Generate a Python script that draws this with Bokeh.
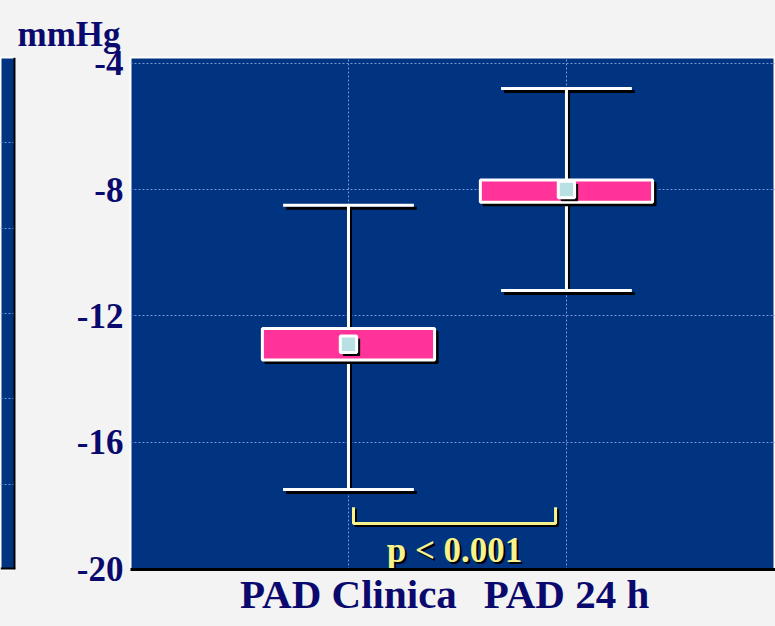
from bokeh.plotting import figure
from bokeh.layouts import row
from bokeh.models import Range1d, FixedTicker, Title
from bokeh.core.properties import value
from bokeh.embed import file_html
from bokeh.resources import INLINE

# ---- data ----
categories = ["PAD Clinica", "PAD 24 h"]
xpos = [1, 2]
mean = [-12.9, -8.0]
box_low = [-13.4, -8.4]
box_high = [-12.4, -7.7]
whisker_low = [-17.5, -11.2]
whisker_high = [-8.5, -4.8]
y_ticks = [-20, -16, -12, -8, -4]
y_tick_labels = ["-20", "-16", "-12", "-8", "-4"]
p_text = "p < 0.001"
bracket_x = [1.023, 1.95]
bracket_y = [-18.06, -18.57]

BLUE = "#003380"
NAVY = "#0a0a6e"
PINK = "#ff3399"
YEL = "#f8f28c"
GRID = "#7896d8"
BG = "#f3f3f3"
FONT = value("Liberation Serif")

H = 626
TOP = 57
BOTTOM = 57

# ---- main figure ----
p = figure(width=759, height=H, output_backend="svg", toolbar_location=None,
           x_range=Range1d(0, 2.959), y_range=Range1d(-20.03, -3.82),
           min_border_left=114, min_border_right=0, min_border_top=TOP,
           min_border_bottom=BOTTOM)
p.background_fill_color = BLUE
p.border_fill_color = BG
p.outline_line_color = "white"
p.outline_line_width = 2

# pixels per unit for shadow offsets
pxu_x = 645 / 2.959
pxu_y = 512 / (20.03 - 3.82)
sx = 3 / pxu_x
sy = 3 / pxu_y

p.xaxis.ticker = FixedTicker(ticks=xpos)
p.xaxis.major_label_overrides = {x: c for x, c in zip(xpos, categories)}
p.xaxis.major_label_text_font = "Liberation Serif"
p.xaxis.major_label_text_font_style = "bold"
p.xaxis.major_label_text_font_size = "41px"
p.xaxis.major_label_text_color = NAVY
p.xaxis.major_label_standoff = 1
p.xaxis.axis_line_color = "black"
p.xaxis.axis_line_width = 3
p.xaxis.major_tick_line_color = None
p.xaxis.minor_tick_line_color = None
p.xaxis.major_tick_out = 0
p.xaxis.major_tick_in = 0

p.yaxis.ticker = FixedTicker(ticks=y_ticks)
p.yaxis.major_label_overrides = {t: s for t, s in zip(y_ticks, y_tick_labels)}
p.yaxis.major_label_text_font = "Liberation Serif"
p.yaxis.major_label_text_font_style = "bold"
p.yaxis.major_label_text_font_size = "35px"
p.yaxis.major_label_text_color = NAVY
p.yaxis.major_label_standoff = 7
p.yaxis.axis_line_color = None
p.yaxis.major_tick_line_color = None
p.yaxis.minor_tick_line_color = None
p.yaxis.major_tick_out = 0
p.yaxis.major_tick_in = 0

for g in (p.xgrid, p.ygrid):
    g.grid_line_color = GRID
    g.grid_line_dash = "2 2"
    g.grid_line_width = 1
p.xgrid.ticker = FixedTicker(ticks=xpos)
p.ygrid.ticker = FixedTicker(ticks=y_ticks)

cap = 0.3
half = 0.395
msz = 0.075

# whiskers: shadow then white
xs_sh = [x + sx / 1.5 for x in xpos]
p.segment(x0=xs_sh, x1=xs_sh, y0=whisker_low, y1=whisker_high, line_color="black", line_width=3)
p.segment(x0=[x - cap + sx for x in xpos], x1=[x + cap + sx for x in xpos],
          y0=[w - sy for w in whisker_low], y1=[w - sy for w in whisker_low], line_color="black", line_width=3)
p.segment(x0=[x - cap + sx for x in xpos], x1=[x + cap + sx for x in xpos],
          y0=[w - sy for w in whisker_high], y1=[w - sy for w in whisker_high], line_color="black", line_width=3)
p.segment(x0=xpos, x1=xpos, y0=whisker_low, y1=whisker_high, line_color="white", line_width=3)
p.segment(x0=[x - cap for x in xpos], x1=[x + cap for x in xpos],
          y0=whisker_low, y1=whisker_low, line_color="white", line_width=3)
p.segment(x0=[x - cap for x in xpos], x1=[x + cap for x in xpos],
          y0=whisker_high, y1=whisker_high, line_color="white", line_width=3)

# boxes
p.quad(left=[x - half + sx for x in xpos], right=[x + half + sx for x in xpos],
       bottom=[b - sy for b in box_low], top=[t - sy for t in box_high],
       fill_color="black", line_color="black", line_width=2)
p.quad(left=[x - half for x in xpos], right=[x + half for x in xpos],
       bottom=box_low, top=box_high, fill_color=PINK, line_color="white", line_width=3)

# mean squares
p.rect(x=[x + sx for x in xpos], y=[m - sy for m in mean], width=msz, height=msz * pxu_x / pxu_y,
       fill_color="black", line_color="black")
p.rect(x=xpos, y=mean, width=msz, height=msz * pxu_x / pxu_y,
       fill_color="#b9e0e2", line_color="white", line_width=3)

# significance bracket
bx = [bracket_x[0], bracket_x[0], bracket_x[1], bracket_x[1]]
by = [bracket_y[0], bracket_y[1], bracket_y[1], bracket_y[0]]
p.line(x=[v + sx / 1.5 for v in bx], y=[v - sy / 1.5 for v in by], line_color="black", line_width=3)
p.line(x=bx, y=by, line_color=YEL, line_width=3)

tx = (bracket_x[0] + bracket_x[1]) / 2
ty = -19.42
p.text(x=[tx], y=[ty], text=[p_text], text_font=FONT, text_font_style="bold",
       text_font_size="35px", text_color="black", text_align="center",
       text_baseline="middle", x_offset=2, y_offset=2)
p.text(x=[tx], y=[ty], text=[p_text], text_font=FONT, text_font_style="bold",
       text_font_size="35px", text_color=YEL, text_align="center",
       text_baseline="middle")

t = Title(text="mmHg", align="left", offset=-113, standoff=7, text_font="Liberation Serif",
          text_font_style="bold", text_font_size="35px", text_color=NAVY)
p.add_layout(t, "above")

# ---- partial neighbouring panel on the left ----
left = figure(width=16, height=H, output_backend="svg", toolbar_location=None,
              x_range=Range1d(0, 1), y_range=Range1d(0, 6),
              min_border_left=0, min_border_right=1, min_border_top=TOP,
              min_border_bottom=BOTTOM)
left.axis.visible = False
left.background_fill_color = BLUE
left.border_fill_color = BG
left.outline_line_color = "white"
left.outline_line_width = 2
left.xgrid.grid_line_color = None
left.ygrid.ticker = FixedTicker(ticks=[1, 2, 3, 4, 5])
left.ygrid.grid_line_color = GRID
left.ygrid.grid_line_dash = "2 2"
left.segment(x0=[1], x1=[1], y0=[0], y1=[6], line_color="black", line_width=4)
left.segment(x0=[0], x1=[1], y0=[0], y1=[0], line_color="black", line_width=4)

layout = row(left, p, spacing=0)
layout.styles = {"background-color": BG}

open("out.html", "w").write(file_html(layout, INLINE))
